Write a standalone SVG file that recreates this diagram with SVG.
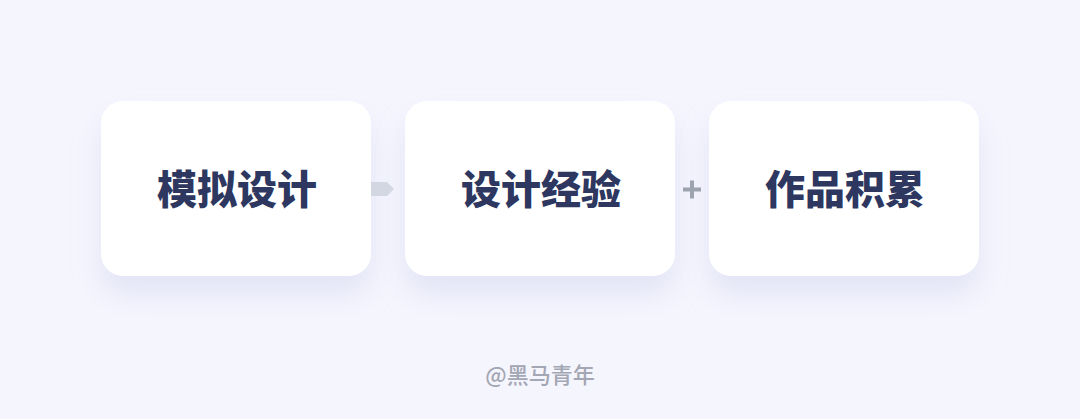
<svg xmlns="http://www.w3.org/2000/svg" width="1080" height="419" viewBox="0 0 1080 419">
<defs>
<filter id="sh" x="-30%" y="-30%" width="160%" height="180%">
<feDropShadow dx="0" dy="18" stdDeviation="14" flood-color="#c8cbe8" flood-opacity="0.4"/>
</filter>
<style>
.box{fill:#ffffff;filter:url(#sh)}
.t{font-family:"Noto Sans CJK SC","Noto Sans",sans-serif;font-weight:900;font-size:40px;fill:#2d3760;text-anchor:middle}
.ft{font-family:"Noto Sans CJK SC","Noto Sans",sans-serif;font-weight:500;font-size:22px;fill:#a3a6b3;text-anchor:middle}
</style>
</defs>
<rect width="1080" height="419" fill="#f5f5fe"/>
<g id="node1"><rect class="box" x="101" y="101" width="270" height="175" rx="22"/><text class="t" x="237" y="204">模拟设计</text></g>
<g id="node2"><rect class="box" x="405" y="101" width="270" height="175" rx="22"/><text class="t" x="541" y="204">设计经验</text></g>
<g id="node3"><rect class="box" x="709" y="101" width="270" height="175" rx="22"/><text class="t" x="845" y="204">作品积累</text></g>
<g id="connectors">
<polygon points="371,182 387,182 394,189 387,196 371,196" fill="#d3d7e2"/>
<g stroke="#9ea3b0" stroke-width="4">
<line x1="683" y1="189.5" x2="701" y2="189.5"/>
<line x1="692" y1="180.5" x2="692" y2="198.5"/>
</g>
</g>
<text class="ft" x="540" y="383">@黑马青年</text>
</svg>
